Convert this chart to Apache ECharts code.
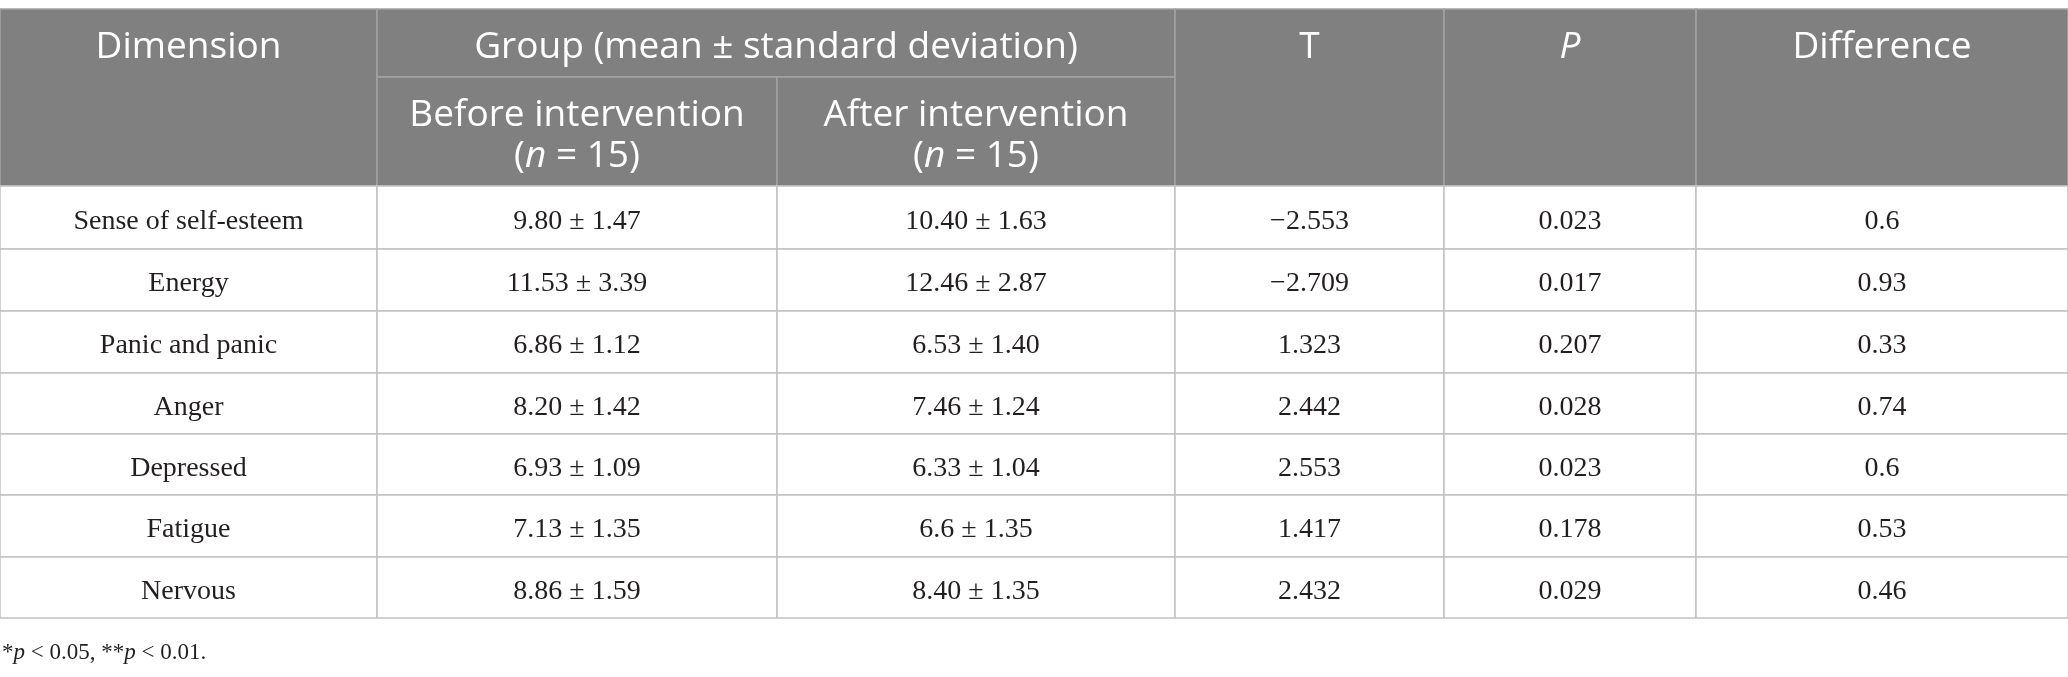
<!DOCTYPE html>
<html>
<head>
<meta charset="utf-8">
<title>Table</title>
<script src="https://cdn.jsdelivr.net/npm/echarts@6.0.0/dist/echarts.min.js"></script>
<style>
html, body { margin: 0; padding: 0; background: #fff; }
#table { width: 2068px; height: 677px; }
</style>
</head>
<body>
<div id="table"></div>
<script>
// table data
var dimensions = ['Sense of self-esteem', 'Energy', 'Panic and panic', 'Anger', 'Depressed', 'Fatigue', 'Nervous'];
var beforeMean = ['9.80', '11.53', '6.86', '8.20', '6.93', '7.13', '8.86'];
var beforeSd = ['1.47', '3.39', '1.12', '1.42', '1.09', '1.35', '1.59'];
var afterMean = ['10.40', '12.46', '6.53', '7.46', '6.33', '6.6', '8.40'];
var afterSd = ['1.63', '2.87', '1.40', '1.24', '1.04', '1.35', '1.35'];
var tValues = ['\u22122.553', '\u22122.709', '1.323', '2.442', '2.553', '1.417', '2.432'];
var pValues = ['0.023', '0.017', '0.207', '0.028', '0.023', '0.178', '0.029'];
var differences = ['0.6', '0.93', '0.33', '0.74', '0.6', '0.53', '0.46'];

// layout of the grid (column and row edges, in chart units)
var colEdges = [0, 377, 777, 1175, 1444, 1696, 2068];
var rowEdges = [9, 77, 186, 249, 311, 373, 434, 495, 557, 618];

var cells = [
    {c0: 0, c1: 1, r0: 0, r1: 2, t0: 0, t1: 1, text: 'Dimension', head: true},
    {c0: 1, c1: 3, r0: 0, r1: 1, text: 'Group (mean \u00b1 standard deviation)', head: true},
    {c0: 1, c1: 2, r0: 1, r1: 2, text: 'Before intervention\n({i|n} = 15)', head: true},
    {c0: 2, c1: 3, r0: 1, r1: 2, text: 'After intervention\n({i|n} = 15)', head: true},
    {c0: 3, c1: 4, r0: 0, r1: 2, t0: 0, t1: 1, text: 'T', head: true},
    {c0: 4, c1: 5, r0: 0, r1: 2, t0: 0, t1: 1, text: '{i|P}', head: true},
    {c0: 5, c1: 6, r0: 0, r1: 2, t0: 0, t1: 1, text: 'Difference', head: true}
];
dimensions.forEach(function (d, i) {
    var row = [
        d,
        beforeMean[i] + ' \u00b1 ' + beforeSd[i],
        afterMean[i] + ' \u00b1 ' + afterSd[i],
        tValues[i],
        pValues[i],
        differences[i]
    ];
    row.forEach(function (txt, j) {
        cells.push({c0: j, c1: j + 1, r0: i + 2, r1: i + 3, text: txt, head: false});
    });
});

var seriesData = cells.map(function (c) {
    var t0 = c.t0 != null ? c.t0 : c.r0;
    var t1 = c.t1 != null ? c.t1 : c.r1;
    return [colEdges[c.c0], colEdges[c.c1], rowEdges[c.r0], rowEdges[c.r1], rowEdges[t0], rowEdges[t1]];
});

function renderCell(params, api) {
    var c = cells[params.dataIndex];
    var p0 = api.coord([api.value(0), api.value(2)]);
    var p1 = api.coord([api.value(1), api.value(3)]);
    var ty0 = api.coord([0, api.value(4)])[1];
    var ty1 = api.coord([0, api.value(5)])[1];
    var font = c.head ? '"Open Sans", "Noto Sans", sans-serif' : '"Liberation Serif", "DejaVu Serif", serif';
    var size = c.head ? 37 : 28;
    var color = c.head ? '#ffffff' : '#231f20';
    return {
        type: 'group',
        children: [{
            type: 'rect',
            shape: {x: p0[0], y: p0[1], width: p1[0] - p0[0], height: p1[1] - p0[1]},
            style: {
                fill: c.head ? '#808080' : '#ffffff',
                stroke: c.head ? '#a3a3a3' : '#c2c2c2',
                lineWidth: 1.5
            }
        }, {
            type: 'text',
            style: {
                text: c.text,
                x: (p0[0] + p1[0]) / 2,
                y: (ty0 + ty1) / 2 + 4,
                align: 'center',
                verticalAlign: 'middle',
                fontFamily: font,
                fontSize: size,
                lineHeight: 41,
                fill: color,
                rich: {
                    i: {fontStyle: 'italic', fontFamily: font, fontSize: size, lineHeight: 41, fill: color}
                }
            }
        }]
    };
}

var myChart = echarts.init(document.getElementById('table'));
var option = {
    animation: false,
    backgroundColor: '#ffffff',
    title: {
        text: '*{i|p} < 0.05, **{i|p} < 0.01.',
        left: -3,
        top: 636,
        textStyle: {
            fontFamily: '"Liberation Serif", serif',
            fontSize: 23,
            fontWeight: 'normal',
            color: '#231f20',
            rich: {
                i: {fontStyle: 'italic', fontFamily: '"Liberation Serif", serif', fontSize: 23, color: '#231f20'}
            }
        }
    },
    grid: {left: 0, right: 0, top: 0, bottom: 0},
    xAxis: {type: 'value', min: 0, max: 2068, show: false},
    yAxis: {type: 'value', min: 0, max: 677, inverse: true, show: false},
    series: [{
        type: 'custom',
        silent: true,
        clip: false,
        renderItem: renderCell,
        data: seriesData
    }]
};
myChart.setOption(option, true);
</script>
</body>
</html>
